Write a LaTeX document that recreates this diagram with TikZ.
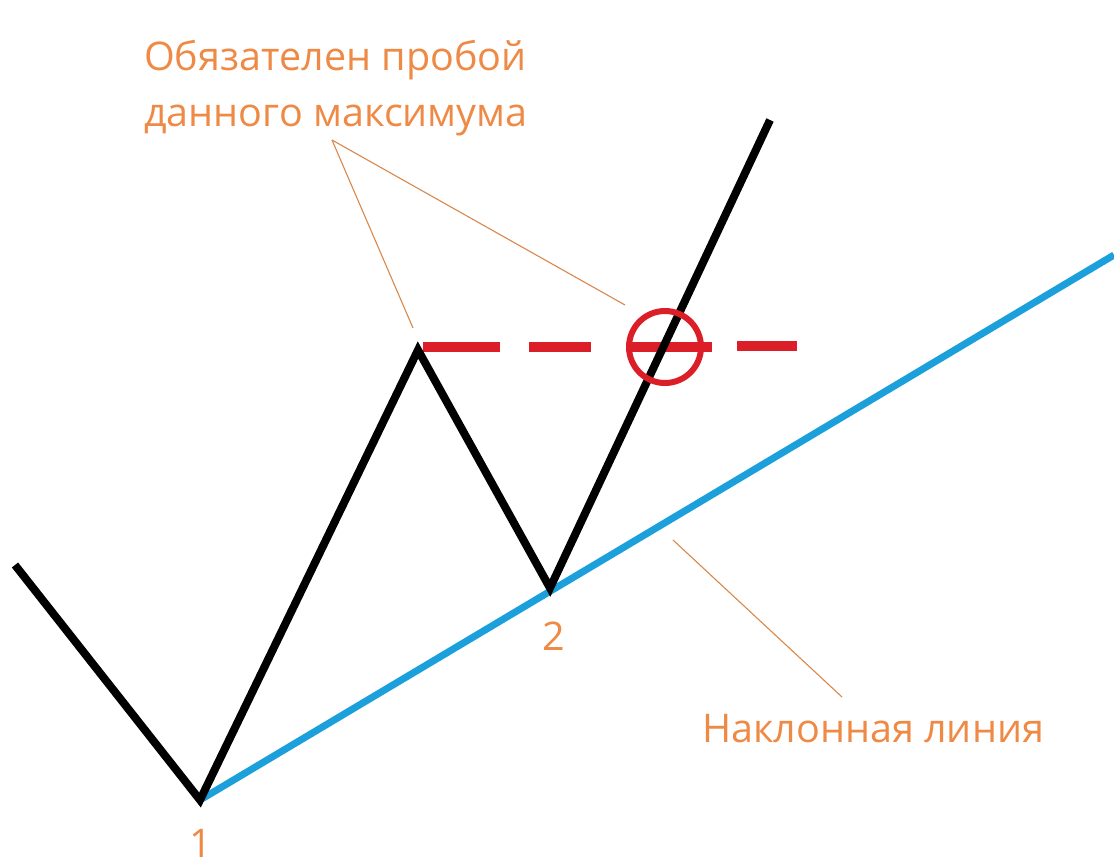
\documentclass[tikz,border=0pt]{standalone}
\usepackage{fontspec}
\setmainfont{Open Sans}
\definecolor{txtorange}{HTML}{EE8A45}
\definecolor{leadorange}{HTML}{D9874A}
\definecolor{trendblue}{HTML}{1BA0DC}
\definecolor{breakred}{HTML}{DC1E28}
\tikzset{
  price/.style={line width=8pt, black, line join=miter},
  trend/.style={line width=7pt, trendblue},
  level/.style={line width=10pt, breakred},
  leader/.style={line width=1.1pt, leadorange},
  lbl/.style={text=txtorange, font=\fontsize{39.5}{57}\selectfont, inner sep=0pt},
}
\begin{document}
\begin{tikzpicture}[x=1pt,y=-1pt]
\useasboundingbox (0,0) rectangle (1114,865);
% price path points
\coordinate (p0) at (15,565);
\coordinate (p1) at (200,800);
\coordinate (p2) at (418,350);
\coordinate (p3) at (550,588);
\coordinate (p4) at (770,120);
\coordinate (t1) at (1114,255);
% trend line
\draw[trend] (p1) -- (t1);
% level dashes
\coordinate (d1a) at (423,347); \coordinate (d1b) at (500,347);
\coordinate (d2a) at (529,347); \coordinate (d2b) at (591,347);
\coordinate (d3a) at (627,347); \coordinate (d3b) at (712,347);
\coordinate (d4a) at (737,346); \coordinate (d4b) at (797,346);
\draw[level] (d1a) -- (d1b);
\draw[level] (d2a) -- (d2b);
\draw[level] (d3a) -- (d3b);
\draw[level] (d4a) -- (d4b);
% price
\draw[price] (p0) -- (p1) -- (p2) -- (p3) -- (p4);
% breakout circle
\node[draw=breakred, line width=6pt, circle, minimum size=72pt, inner sep=0pt] (brk) at (665,347) {};
% labels
\node[lbl, anchor=base west] (top1) at (144,70) {Обязателен пробой};
\node[lbl, anchor=base west] (top2) at (144,126) {данного максимума};
\node[lbl, anchor=base west] (trl) at (702,742) {Наклонная линия};
\node[lbl, anchor=base] (n1) at (201,857) {1};
\node[lbl, anchor=base] (n2) at (554,650) {2};
% leaders
\coordinate (lfork) at (332,140);
\coordinate (lpeak) at (413,328);
\coordinate (lcirc) at (625,305);
\coordinate (ltrA) at (673,540);
\coordinate (ltrB) at (842,697);
\draw[leader] (lfork) -- (lpeak);
\draw[leader] (lfork) -- (lcirc);
\draw[leader] (ltrA) -- (ltrB);
\end{tikzpicture}
\end{document}
